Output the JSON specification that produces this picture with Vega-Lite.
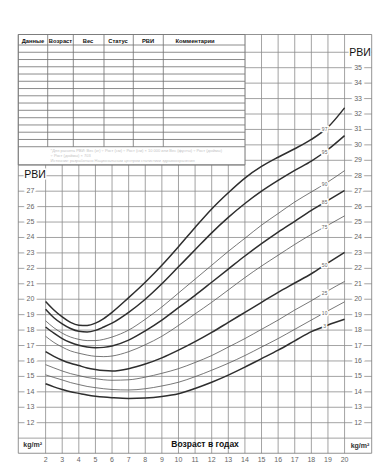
{
  "$schema": "https://vega.github.io/schema/vega-lite/v6.json",
  "width": 392,
  "height": 473,
  "autosize": {"type": "fit", "contains": "padding"},
  "padding": 0,
  "background": "white",
  "config": {"view": {"stroke": null}, "text": {"font": "Liberation Sans"}},
  "datasets": {
    "frame": [{"age": 0.356, "age2": 21.633, "bmi": 10.02, "bmi2": 37.15}],
    "hlines": [
      {"bmi": 11, "age": 0.356, "age2": 21.633}, {"bmi": 12, "age": 0.356, "age2": 21.633},
      {"bmi": 13, "age": 0.356, "age2": 21.633}, {"bmi": 14, "age": 0.356, "age2": 21.633},
      {"bmi": 15, "age": 0.356, "age2": 21.633}, {"bmi": 16, "age": 0.356, "age2": 21.633},
      {"bmi": 17, "age": 0.356, "age2": 21.633}, {"bmi": 18, "age": 0.356, "age2": 21.633},
      {"bmi": 19, "age": 0.356, "age2": 21.633}, {"bmi": 20, "age": 0.356, "age2": 21.633},
      {"bmi": 21, "age": 0.356, "age2": 21.633}, {"bmi": 22, "age": 0.356, "age2": 21.633},
      {"bmi": 23, "age": 0.356, "age2": 21.633}, {"bmi": 24, "age": 0.356, "age2": 21.633},
      {"bmi": 25, "age": 0.356, "age2": 21.633}, {"bmi": 26, "age": 0.356, "age2": 21.633},
      {"bmi": 27, "age": 0.356, "age2": 21.633}, {"bmi": 28, "age": 0.356, "age2": 21.633},
      {"bmi": 29, "age": 14, "age2": 21.633}, {"bmi": 30, "age": 14, "age2": 21.633},
      {"bmi": 31, "age": 14, "age2": 21.633}, {"bmi": 32, "age": 14, "age2": 21.633},
      {"bmi": 33, "age": 14, "age2": 21.633}, {"bmi": 34, "age": 14, "age2": 21.633},
      {"bmi": 35, "age": 14, "age2": 21.633}, {"bmi": 36, "age": 14, "age2": 21.633}
    ],
    "vlines": [
      {"age": 2, "bmi": 10.02, "bmi2": 28.7}, {"age": 3, "bmi": 10.02, "bmi2": 28.7},
      {"age": 4, "bmi": 10.02, "bmi2": 28.7}, {"age": 5, "bmi": 10.02, "bmi2": 28.7},
      {"age": 6, "bmi": 10.02, "bmi2": 28.7}, {"age": 7, "bmi": 10.02, "bmi2": 28.7},
      {"age": 8, "bmi": 10.02, "bmi2": 28.7}, {"age": 9, "bmi": 10.02, "bmi2": 28.7},
      {"age": 10, "bmi": 10.02, "bmi2": 28.7}, {"age": 11, "bmi": 10.02, "bmi2": 28.7},
      {"age": 12, "bmi": 10.02, "bmi2": 28.7}, {"age": 13, "bmi": 10.02, "bmi2": 28.7},
      {"age": 14, "bmi": 10.02, "bmi2": 37.15}, {"age": 15, "bmi": 10.02, "bmi2": 37.15},
      {"age": 16, "bmi": 10.02, "bmi2": 37.15}, {"age": 17, "bmi": 10.02, "bmi2": 37.15},
      {"age": 18, "bmi": 10.02, "bmi2": 37.15}, {"age": 19, "bmi": 10.02, "bmi2": 37.15},
      {"age": 20, "bmi": 10.02, "bmi2": 37.15}
    ],
    "tablerows": [
      {"bmi": 36.47, "age": 0.356, "age2": 14}, {"bmi": 36.0, "age": 0.356, "age2": 14},
      {"bmi": 35.53, "age": 0.356, "age2": 14}, {"bmi": 35.06, "age": 0.356, "age2": 14},
      {"bmi": 34.59, "age": 0.356, "age2": 14}, {"bmi": 34.12, "age": 0.356, "age2": 14},
      {"bmi": 33.65, "age": 0.356, "age2": 14}, {"bmi": 33.18, "age": 0.356, "age2": 14},
      {"bmi": 32.71, "age": 0.356, "age2": 14}, {"bmi": 32.24, "age": 0.356, "age2": 14},
      {"bmi": 31.76, "age": 0.356, "age2": 14}, {"bmi": 31.29, "age": 0.356, "age2": 14},
      {"bmi": 30.82, "age": 0.356, "age2": 14}, {"bmi": 30.35, "age": 0.356, "age2": 14},
      {"bmi": 29.88, "age": 0.356, "age2": 14}, {"bmi": 28.7, "age": 0.356, "age2": 14}
    ],
    "tablecols": [
      {"age": 2.126, "bmi": 29.88, "bmi2": 37.15}, {"age": 3.668, "bmi": 29.88, "bmi2": 37.15},
      {"age": 5.516, "bmi": 29.88, "bmi2": 37.15}, {"age": 7.28, "bmi": 29.88, "bmi2": 37.15},
      {"age": 9.086, "bmi": 29.88, "bmi2": 37.15}
    ],
    "tablebox": [{"age": 0.356, "age2": 14, "bmi": 28.7, "bmi2": 37.15}],
    "header": [
      {"age": 1.241, "bmi": 36.76, "t": "Данные"}, {"age": 2.897, "bmi": 36.76, "t": "Возраст"},
      {"age": 4.553, "bmi": 36.76, "t": "Вес"}, {"age": 6.359, "bmi": 36.76, "t": "Статус"},
      {"age": 8.165, "bmi": 36.76, "t": "РВИ"}, {"age": 11.0, "bmi": 36.76, "t": "Комментарии"}
    ],
    "note": [
      {"age": 2.3, "bmi": 29.58, "t": "*Для расчета РВИ: Вес (кг) ÷ Рост (см) ÷ Рост (см) × 10 000  или Вес (фунты) ÷ Рост (дюймы)"},
      {"age": 2.3, "bmi": 29.25, "t": "÷ Рост (дюймы) × 703"},
      {"age": 2.3, "bmi": 28.93, "t": "Источник: разработано Национальным центром статистики здравоохранения"}
    ],
    "lefttick": [
      {"age": 1.09, "bmi": 12, "t": "12"}, {"age": 1.09, "bmi": 13, "t": "13"},
      {"age": 1.09, "bmi": 14, "t": "14"}, {"age": 1.09, "bmi": 15, "t": "15"},
      {"age": 1.09, "bmi": 16, "t": "16"}, {"age": 1.09, "bmi": 17, "t": "17"},
      {"age": 1.09, "bmi": 18, "t": "18"}, {"age": 1.09, "bmi": 19, "t": "19"},
      {"age": 1.09, "bmi": 20, "t": "20"}, {"age": 1.09, "bmi": 21, "t": "21"},
      {"age": 1.09, "bmi": 22, "t": "22"}, {"age": 1.09, "bmi": 23, "t": "23"},
      {"age": 1.09, "bmi": 24, "t": "24"}, {"age": 1.09, "bmi": 25, "t": "25"},
      {"age": 1.09, "bmi": 26, "t": "26"}, {"age": 1.09, "bmi": 27, "t": "27"}
    ],
    "righttick": [
      {"age": 20.81, "bmi": 12, "t": "12"}, {"age": 20.81, "bmi": 13, "t": "13"},
      {"age": 20.81, "bmi": 14, "t": "14"}, {"age": 20.81, "bmi": 15, "t": "15"},
      {"age": 20.81, "bmi": 16, "t": "16"}, {"age": 20.81, "bmi": 17, "t": "17"},
      {"age": 20.81, "bmi": 18, "t": "18"}, {"age": 20.81, "bmi": 19, "t": "19"},
      {"age": 20.81, "bmi": 20, "t": "20"}, {"age": 20.81, "bmi": 21, "t": "21"},
      {"age": 20.81, "bmi": 22, "t": "22"}, {"age": 20.81, "bmi": 23, "t": "23"},
      {"age": 20.81, "bmi": 24, "t": "24"}, {"age": 20.81, "bmi": 25, "t": "25"},
      {"age": 20.81, "bmi": 26, "t": "26"}, {"age": 20.81, "bmi": 27, "t": "27"},
      {"age": 20.81, "bmi": 28, "t": "28"}, {"age": 20.81, "bmi": 29, "t": "29"},
      {"age": 20.81, "bmi": 30, "t": "30"}, {"age": 20.81, "bmi": 31, "t": "31"},
      {"age": 20.81, "bmi": 32, "t": "32"}, {"age": 20.81, "bmi": 33, "t": "33"},
      {"age": 20.81, "bmi": 34, "t": "34"}, {"age": 20.81, "bmi": 35, "t": "35"}
    ],
    "xlabels": [
      {"age": 2, "bmi": 9.56, "t": "2"}, {"age": 3, "bmi": 9.56, "t": "3"},
      {"age": 4, "bmi": 9.56, "t": "4"}, {"age": 5, "bmi": 9.56, "t": "5"},
      {"age": 6, "bmi": 9.56, "t": "6"}, {"age": 7, "bmi": 9.56, "t": "7"},
      {"age": 8, "bmi": 9.56, "t": "8"}, {"age": 9, "bmi": 9.56, "t": "9"},
      {"age": 10, "bmi": 9.56, "t": "10"}, {"age": 11, "bmi": 9.56, "t": "11"},
      {"age": 12, "bmi": 9.56, "t": "12"}, {"age": 13, "bmi": 9.56, "t": "13"},
      {"age": 14, "bmi": 9.56, "t": "14"}, {"age": 15, "bmi": 9.56, "t": "15"},
      {"age": 16, "bmi": 9.56, "t": "16"}, {"age": 17, "bmi": 9.56, "t": "17"},
      {"age": 18, "bmi": 9.56, "t": "18"}, {"age": 19, "bmi": 9.56, "t": "19"},
      {"age": 20, "bmi": 9.56, "t": "20"}
    ],
    "bigtitles": [
      {"age": 1.36, "bmi": 28.05, "t": "РВИ"}, {"age": 20.93, "bmi": 35.98, "t": "РВИ"}
    ],
    "units": [
      {"age": 1.22, "bmi": 10.56, "t": "kg/m²"}, {"age": 20.93, "bmi": 10.52, "t": "kg/m²"}
    ],
    "xtitle": [{"age": 11.6, "bmi": 10.65, "t": "Возраст в годах"}],
    "curves": [
      {"p": 97, "age": 2, "bmi": 19.85}, {"p": 97, "age": 2.5, "bmi": 19.3}, {"p": 97, "age": 3, "bmi": 18.85}, {"p": 97, "age": 3.5, "bmi": 18.5}, {"p": 97, "age": 4, "bmi": 18.32}, {"p": 97, "age": 4.5, "bmi": 18.3}, {"p": 97, "age": 5, "bmi": 18.45}, {"p": 97, "age": 5.5, "bmi": 18.75}, {"p": 97, "age": 6, "bmi": 19.15}, {"p": 97, "age": 7, "bmi": 20.1}, {"p": 97, "age": 8, "bmi": 21.1}, {"p": 97, "age": 9, "bmi": 22.2}, {"p": 97, "age": 10, "bmi": 23.4}, {"p": 97, "age": 11, "bmi": 24.65}, {"p": 97, "age": 12, "bmi": 25.85}, {"p": 97, "age": 13, "bmi": 26.9}, {"p": 97, "age": 14, "bmi": 27.85}, {"p": 97, "age": 15, "bmi": 28.6}, {"p": 97, "age": 16, "bmi": 29.2}, {"p": 97, "age": 17, "bmi": 29.75}, {"p": 97, "age": 18, "bmi": 30.35}, {"p": 97, "age": 19, "bmi": 31.15}, {"p": 97, "age": 20, "bmi": 32.4},
      {"p": 95, "age": 2, "bmi": 19.35}, {"p": 95, "age": 2.5, "bmi": 18.8}, {"p": 95, "age": 3, "bmi": 18.4}, {"p": 95, "age": 3.5, "bmi": 18.1}, {"p": 95, "age": 4, "bmi": 17.92}, {"p": 95, "age": 4.5, "bmi": 17.88}, {"p": 95, "age": 5, "bmi": 17.98}, {"p": 95, "age": 5.5, "bmi": 18.2}, {"p": 95, "age": 6, "bmi": 18.45}, {"p": 95, "age": 7, "bmi": 19.15}, {"p": 95, "age": 8, "bmi": 20.0}, {"p": 95, "age": 9, "bmi": 21.0}, {"p": 95, "age": 10, "bmi": 22.1}, {"p": 95, "age": 11, "bmi": 23.2}, {"p": 95, "age": 12, "bmi": 24.3}, {"p": 95, "age": 13, "bmi": 25.3}, {"p": 95, "age": 14, "bmi": 26.2}, {"p": 95, "age": 15, "bmi": 27.0}, {"p": 95, "age": 16, "bmi": 27.7}, {"p": 95, "age": 17, "bmi": 28.35}, {"p": 95, "age": 18, "bmi": 28.95}, {"p": 95, "age": 19, "bmi": 29.7}, {"p": 95, "age": 20, "bmi": 30.6},
      {"p": 90, "age": 2, "bmi": 18.6}, {"p": 90, "age": 2.5, "bmi": 18.15}, {"p": 90, "age": 3, "bmi": 17.8}, {"p": 90, "age": 3.5, "bmi": 17.55}, {"p": 90, "age": 4, "bmi": 17.4}, {"p": 90, "age": 4.5, "bmi": 17.32}, {"p": 90, "age": 5, "bmi": 17.32}, {"p": 90, "age": 5.5, "bmi": 17.4}, {"p": 90, "age": 6, "bmi": 17.55}, {"p": 90, "age": 7, "bmi": 18.0}, {"p": 90, "age": 8, "bmi": 18.7}, {"p": 90, "age": 9, "bmi": 19.5}, {"p": 90, "age": 10, "bmi": 20.4}, {"p": 90, "age": 11, "bmi": 21.3}, {"p": 90, "age": 12, "bmi": 22.2}, {"p": 90, "age": 13, "bmi": 23.1}, {"p": 90, "age": 14, "bmi": 23.95}, {"p": 90, "age": 15, "bmi": 24.8}, {"p": 90, "age": 16, "bmi": 25.55}, {"p": 90, "age": 17, "bmi": 26.3}, {"p": 90, "age": 18, "bmi": 26.95}, {"p": 90, "age": 19, "bmi": 27.6}, {"p": 90, "age": 20, "bmi": 28.33},
      {"p": 85, "age": 2, "bmi": 18.2}, {"p": 85, "age": 2.5, "bmi": 17.8}, {"p": 85, "age": 3, "bmi": 17.45}, {"p": 85, "age": 3.5, "bmi": 17.2}, {"p": 85, "age": 4, "bmi": 17.02}, {"p": 85, "age": 4.5, "bmi": 16.9}, {"p": 85, "age": 5, "bmi": 16.85}, {"p": 85, "age": 5.5, "bmi": 16.88}, {"p": 85, "age": 6, "bmi": 16.97}, {"p": 85, "age": 7, "bmi": 17.35}, {"p": 85, "age": 8, "bmi": 17.95}, {"p": 85, "age": 9, "bmi": 18.65}, {"p": 85, "age": 10, "bmi": 19.45}, {"p": 85, "age": 11, "bmi": 20.25}, {"p": 85, "age": 12, "bmi": 21.1}, {"p": 85, "age": 13, "bmi": 21.95}, {"p": 85, "age": 14, "bmi": 22.8}, {"p": 85, "age": 15, "bmi": 23.6}, {"p": 85, "age": 16, "bmi": 24.35}, {"p": 85, "age": 17, "bmi": 25.05}, {"p": 85, "age": 18, "bmi": 25.75}, {"p": 85, "age": 19, "bmi": 26.4}, {"p": 85, "age": 20, "bmi": 27.04},
      {"p": 75, "age": 2, "bmi": 17.6}, {"p": 75, "age": 2.5, "bmi": 17.2}, {"p": 75, "age": 3, "bmi": 16.9}, {"p": 75, "age": 3.5, "bmi": 16.65}, {"p": 75, "age": 4, "bmi": 16.5}, {"p": 75, "age": 4.5, "bmi": 16.38}, {"p": 75, "age": 5, "bmi": 16.3}, {"p": 75, "age": 5.5, "bmi": 16.28}, {"p": 75, "age": 6, "bmi": 16.32}, {"p": 75, "age": 7, "bmi": 16.6}, {"p": 75, "age": 8, "bmi": 17.05}, {"p": 75, "age": 9, "bmi": 17.6}, {"p": 75, "age": 10, "bmi": 18.3}, {"p": 75, "age": 11, "bmi": 19.05}, {"p": 75, "age": 12, "bmi": 19.8}, {"p": 75, "age": 13, "bmi": 20.6}, {"p": 75, "age": 14, "bmi": 21.4}, {"p": 75, "age": 15, "bmi": 22.15}, {"p": 75, "age": 16, "bmi": 22.85}, {"p": 75, "age": 17, "bmi": 23.55}, {"p": 75, "age": 18, "bmi": 24.2}, {"p": 75, "age": 19, "bmi": 24.8}, {"p": 75, "age": 20, "bmi": 25.4},
      {"p": 50, "age": 2, "bmi": 16.6}, {"p": 50, "age": 2.5, "bmi": 16.3}, {"p": 50, "age": 3, "bmi": 16.05}, {"p": 50, "age": 3.5, "bmi": 15.85}, {"p": 50, "age": 4, "bmi": 15.7}, {"p": 50, "age": 4.5, "bmi": 15.55}, {"p": 50, "age": 5, "bmi": 15.45}, {"p": 50, "age": 5.5, "bmi": 15.38}, {"p": 50, "age": 6, "bmi": 15.35}, {"p": 50, "age": 7, "bmi": 15.5}, {"p": 50, "age": 8, "bmi": 15.8}, {"p": 50, "age": 9, "bmi": 16.2}, {"p": 50, "age": 10, "bmi": 16.7}, {"p": 50, "age": 11, "bmi": 17.25}, {"p": 50, "age": 12, "bmi": 17.85}, {"p": 50, "age": 13, "bmi": 18.5}, {"p": 50, "age": 14, "bmi": 19.15}, {"p": 50, "age": 15, "bmi": 19.8}, {"p": 50, "age": 16, "bmi": 20.45}, {"p": 50, "age": 17, "bmi": 21.05}, {"p": 50, "age": 18, "bmi": 21.65}, {"p": 50, "age": 19, "bmi": 22.35}, {"p": 50, "age": 20, "bmi": 23.03},
      {"p": 25, "age": 2, "bmi": 15.76}, {"p": 25, "age": 2.5, "bmi": 15.55}, {"p": 25, "age": 3, "bmi": 15.35}, {"p": 25, "age": 3.5, "bmi": 15.18}, {"p": 25, "age": 4, "bmi": 15.05}, {"p": 25, "age": 4.5, "bmi": 14.93}, {"p": 25, "age": 5, "bmi": 14.85}, {"p": 25, "age": 5.5, "bmi": 14.78}, {"p": 25, "age": 6, "bmi": 14.75}, {"p": 25, "age": 7, "bmi": 14.78}, {"p": 25, "age": 8, "bmi": 14.95}, {"p": 25, "age": 9, "bmi": 15.2}, {"p": 25, "age": 10, "bmi": 15.5}, {"p": 25, "age": 11, "bmi": 15.9}, {"p": 25, "age": 12, "bmi": 16.35}, {"p": 25, "age": 13, "bmi": 16.9}, {"p": 25, "age": 14, "bmi": 17.45}, {"p": 25, "age": 15, "bmi": 18.05}, {"p": 25, "age": 16, "bmi": 18.65}, {"p": 25, "age": 17, "bmi": 19.3}, {"p": 25, "age": 18, "bmi": 19.9}, {"p": 25, "age": 19, "bmi": 20.55}, {"p": 25, "age": 20, "bmi": 21.15},
      {"p": 10, "age": 2, "bmi": 15.1}, {"p": 10, "age": 2.5, "bmi": 14.93}, {"p": 10, "age": 3, "bmi": 14.77}, {"p": 10, "age": 3.5, "bmi": 14.6}, {"p": 10, "age": 4, "bmi": 14.47}, {"p": 10, "age": 4.5, "bmi": 14.35}, {"p": 10, "age": 5, "bmi": 14.27}, {"p": 10, "age": 5.5, "bmi": 14.2}, {"p": 10, "age": 6, "bmi": 14.15}, {"p": 10, "age": 7, "bmi": 14.12}, {"p": 10, "age": 8, "bmi": 14.2}, {"p": 10, "age": 9, "bmi": 14.38}, {"p": 10, "age": 10, "bmi": 14.62}, {"p": 10, "age": 11, "bmi": 14.98}, {"p": 10, "age": 12, "bmi": 15.4}, {"p": 10, "age": 13, "bmi": 15.85}, {"p": 10, "age": 14, "bmi": 16.35}, {"p": 10, "age": 15, "bmi": 16.9}, {"p": 10, "age": 16, "bmi": 17.45}, {"p": 10, "age": 17, "bmi": 18.05}, {"p": 10, "age": 18, "bmi": 18.65}, {"p": 10, "age": 19, "bmi": 19.25}, {"p": 10, "age": 20, "bmi": 19.83},
      {"p": 3, "age": 2, "bmi": 14.52}, {"p": 3, "age": 2.5, "bmi": 14.32}, {"p": 3, "age": 3, "bmi": 14.15}, {"p": 3, "age": 3.5, "bmi": 14.0}, {"p": 3, "age": 4, "bmi": 13.9}, {"p": 3, "age": 4.5, "bmi": 13.8}, {"p": 3, "age": 5, "bmi": 13.72}, {"p": 3, "age": 5.5, "bmi": 13.66}, {"p": 3, "age": 6, "bmi": 13.62}, {"p": 3, "age": 7, "bmi": 13.57}, {"p": 3, "age": 8, "bmi": 13.6}, {"p": 3, "age": 9, "bmi": 13.7}, {"p": 3, "age": 10, "bmi": 13.88}, {"p": 3, "age": 11, "bmi": 14.22}, {"p": 3, "age": 12, "bmi": 14.62}, {"p": 3, "age": 13, "bmi": 15.08}, {"p": 3, "age": 14, "bmi": 15.6}, {"p": 3, "age": 15, "bmi": 16.15}, {"p": 3, "age": 16, "bmi": 16.7}, {"p": 3, "age": 17, "bmi": 17.3}, {"p": 3, "age": 18, "bmi": 17.9}, {"p": 3, "age": 19, "bmi": 18.33}, {"p": 3, "age": 20, "bmi": 18.7}
    ],
    "plabels": [
      {"age": 18.8, "bmi": 31.02, "t": "97"}, {"age": 18.8, "bmi": 29.55, "t": "95"},
      {"age": 18.8, "bmi": 27.47, "t": "90"}, {"age": 18.8, "bmi": 26.27, "t": "85"},
      {"age": 18.8, "bmi": 24.68, "t": "75"}, {"age": 18.8, "bmi": 22.21, "t": "50"},
      {"age": 18.8, "bmi": 20.42, "t": "25"}, {"age": 18.8, "bmi": 19.13, "t": "10"},
      {"age": 18.8, "bmi": 18.24, "t": "3"}
    ]
  },
  "encoding": {
    "x": {"field": "age", "type": "quantitative", "axis": null, "scale": {"domain": [-0.745, 22.855], "nice": false, "zero": false}},
    "y": {"field": "bmi", "type": "quantitative", "axis": null, "scale": {"domain": [8.741, 39.386], "nice": false, "zero": false}}
  },
  "layer": [
    {"data": {"name": "hlines"}, "mark": {"type": "rule", "color": "#8c8c8c", "strokeWidth": 0.8}, "encoding": {"x2": {"field": "age2"}}},
    {"data": {"name": "vlines"}, "mark": {"type": "rule", "color": "#8c8c8c", "strokeWidth": 0.8}, "encoding": {"y2": {"field": "bmi2"}}},
    {"data": {"name": "tablebox"}, "mark": {"type": "rect", "fill": "white", "stroke": "#777", "strokeWidth": 0.8}, "encoding": {"x2": {"field": "age2"}, "y2": {"field": "bmi2"}}},
    {"data": {"name": "tablerows"}, "mark": {"type": "rule", "color": "#6f6f6f", "strokeWidth": 0.8}, "encoding": {"x2": {"field": "age2"}}},
    {"data": {"name": "tablecols"}, "mark": {"type": "rule", "color": "#6f6f6f", "strokeWidth": 0.8}, "encoding": {"y2": {"field": "bmi2"}}},
    {"data": {"name": "header"}, "mark": {"type": "text", "fontSize": 5.8, "fontWeight": "bold", "color": "#111"}, "encoding": {"text": {"field": "t"}}},
    {"data": {"name": "note"}, "mark": {"type": "text", "fontSize": 4, "color": "#c4c4c4", "align": "left"}, "encoding": {"text": {"field": "t"}}},
    {"data": {"name": "curves"}, "transform": [{"filter": {"field": "p", "oneOf": [10, 25, 75, 90]}}], "mark": {"type": "line", "interpolate": "monotone", "color": "#555", "strokeWidth": 0.8}, "encoding": {"detail": {"field": "p"}}},
    {"data": {"name": "curves"}, "transform": [{"filter": {"field": "p", "oneOf": [3, 50, 85, 95, 97]}}], "mark": {"type": "line", "interpolate": "monotone", "color": "#2e2e2e", "strokeWidth": 1.5}, "encoding": {"detail": {"field": "p"}}},
    {"data": {"name": "plabels"}, "mark": {"type": "text", "fontSize": 5, "color": "white", "stroke": "white", "strokeWidth": 3}, "encoding": {"text": {"field": "t"}}},
    {"data": {"name": "plabels"}, "mark": {"type": "text", "fontSize": 5, "color": "#666"}, "encoding": {"text": {"field": "t"}}},
    {"data": {"name": "lefttick"}, "mark": {"type": "text", "fontSize": 7, "color": "white", "stroke": "white", "strokeWidth": 5}, "encoding": {"text": {"field": "t"}}},
    {"data": {"name": "lefttick"}, "mark": {"type": "text", "fontSize": 7, "color": "#666"}, "encoding": {"text": {"field": "t"}}},
    {"data": {"name": "righttick"}, "mark": {"type": "text", "fontSize": 7, "color": "white", "stroke": "white", "strokeWidth": 5}, "encoding": {"text": {"field": "t"}}},
    {"data": {"name": "righttick"}, "mark": {"type": "text", "fontSize": 7, "color": "#666"}, "encoding": {"text": {"field": "t"}}},
    {"data": {"name": "xlabels"}, "mark": {"type": "text", "fontSize": 7, "color": "#666"}, "encoding": {"text": {"field": "t"}}},
    {"data": {"name": "bigtitles"}, "mark": {"type": "text", "fontSize": 10.5, "color": "white", "stroke": "white", "strokeWidth": 3}, "encoding": {"text": {"field": "t"}}},
    {"data": {"name": "bigtitles"}, "mark": {"type": "text", "fontSize": 10.5, "color": "#111"}, "encoding": {"text": {"field": "t"}}},
    {"data": {"name": "units"}, "mark": {"type": "text", "fontSize": 7, "fontWeight": "bold", "color": "#333"}, "encoding": {"text": {"field": "t"}}},
    {"data": {"name": "xtitle"}, "mark": {"type": "text", "fontSize": 8.5, "fontWeight": "bold", "color": "#111"}, "encoding": {"text": {"field": "t"}}},
    {"data": {"name": "frame"}, "mark": {"type": "rect", "fill": null, "stroke": "#777", "strokeWidth": 0.8}, "encoding": {"x2": {"field": "age2"}, "y2": {"field": "bmi2"}}}
  ]
}
